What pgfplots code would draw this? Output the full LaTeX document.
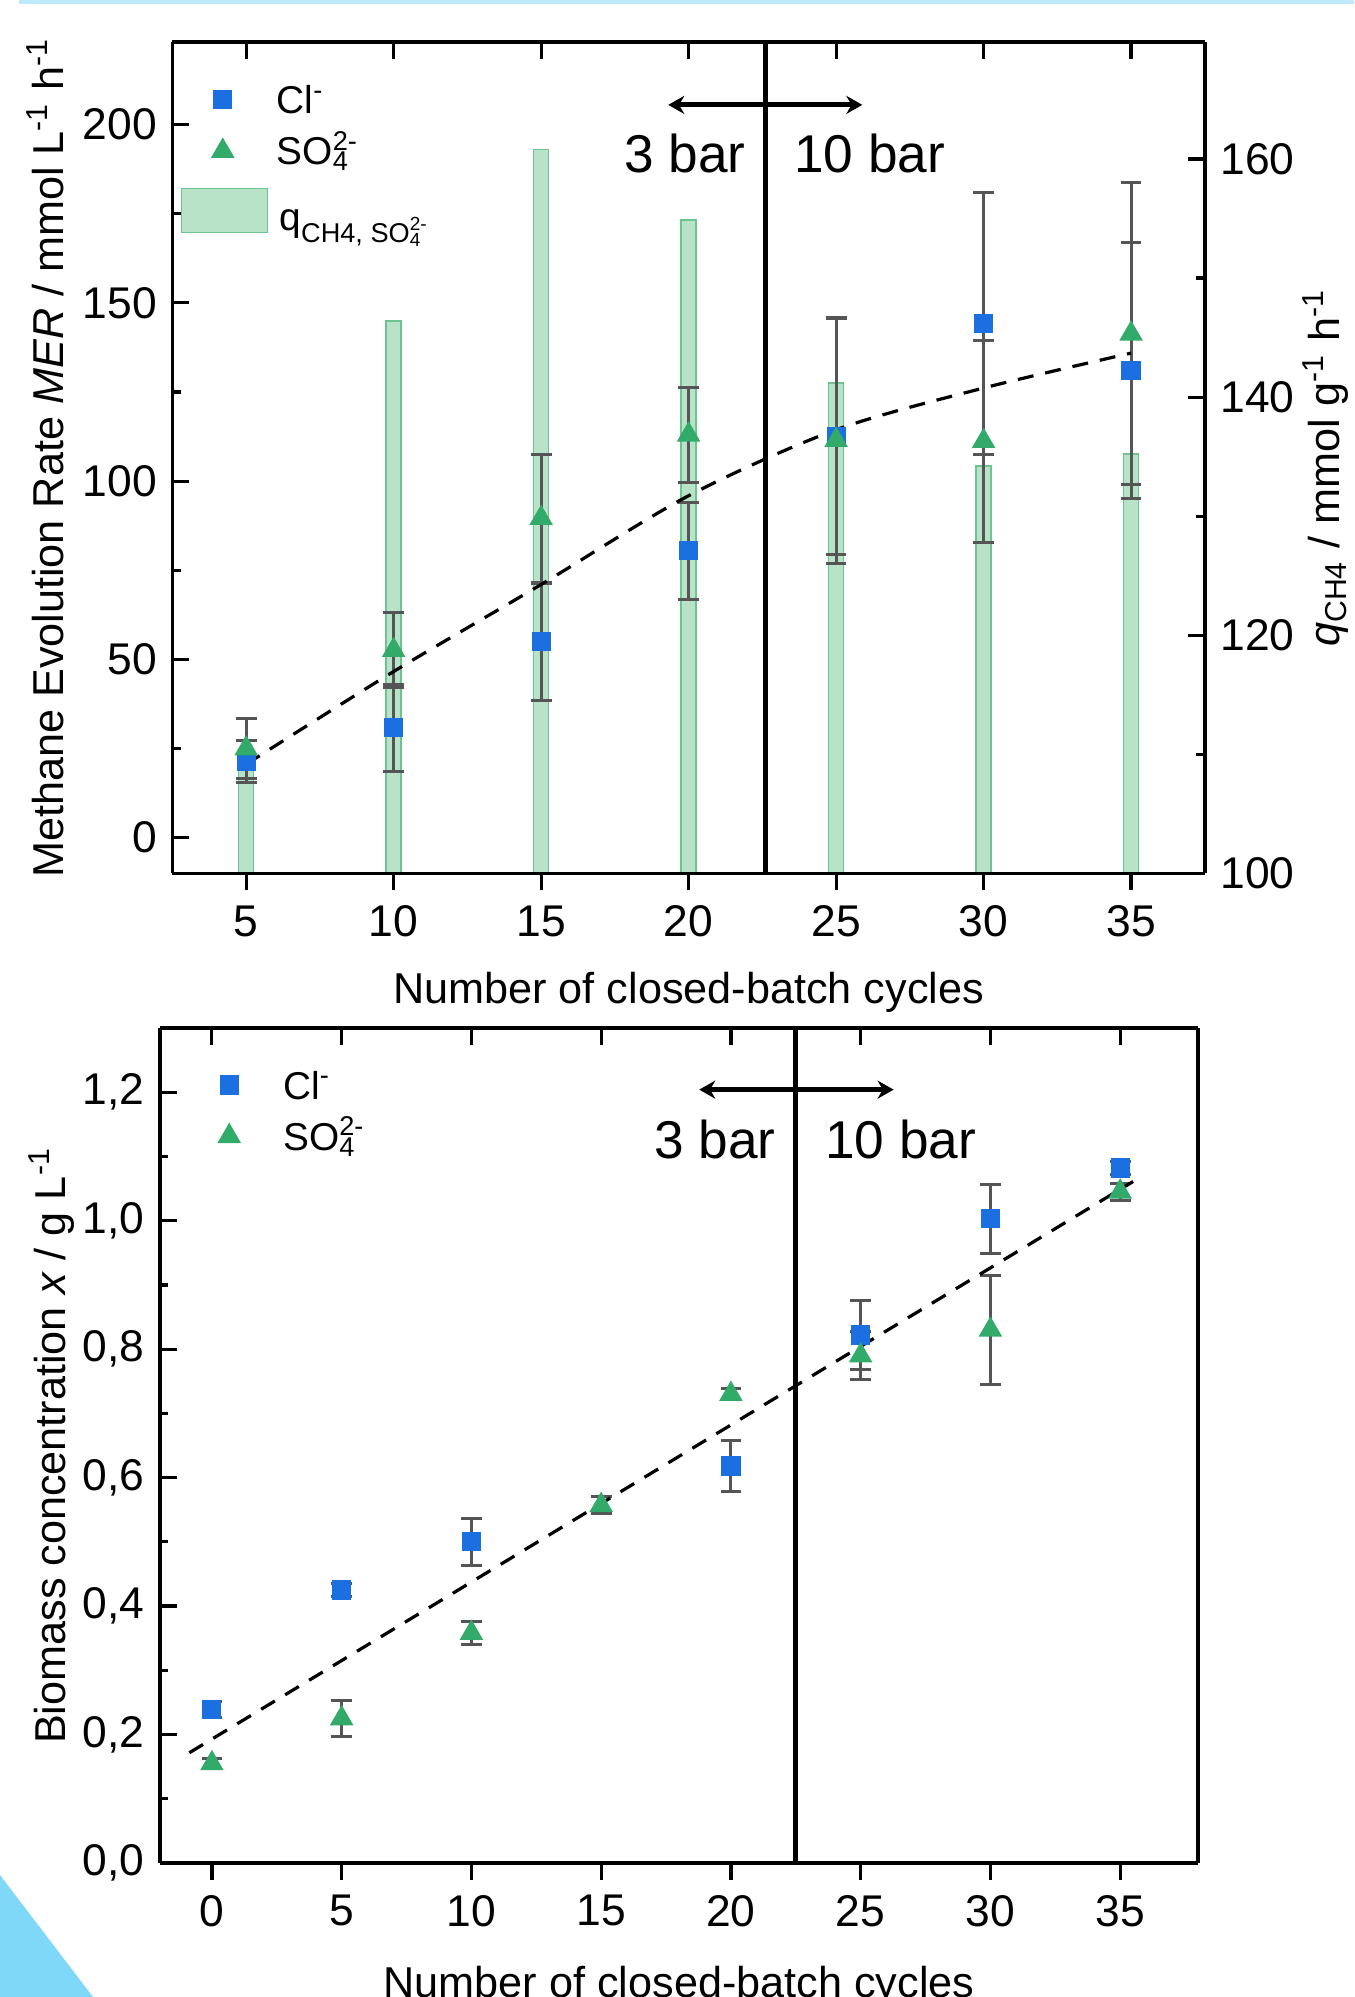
\documentclass[border=0pt]{standalone}
\usepackage{fontspec}
\setmainfont{Liberation Sans}
\usepackage{pgfplots}
\pgfplotsset{compat=1.18}
\usetikzlibrary{arrows.meta}
\definecolor{clblue}{RGB}{27,111,225}
\definecolor{sogreen}{RGB}{50,170,106}
\definecolor{barfill}{RGB}{184,227,201}
\definecolor{baredge}{RGB}{108,197,143}
\definecolor{errgray}{RGB}{85,85,85}
\definecolor{stripblue}{RGB}{190,233,251}
\definecolor{triblue}{RGB}{128,216,248}
\newcommand\labfont{\fontsize{10.8}{13}\selectfont}
\newcommand\barfont{\fontsize{13.3}{15}\selectfont}
\pgfplotsset{
  base/.style={scale only axis, clip=false,
    /pgf/number format/assume math mode=true,
    axis line style={line width=0.9pt},
    major tick length=4.2pt, minor tick length=2.1pt,
    major tick style={line width=0.8pt,black},
    minor tick style={line width=0.8pt,black},
  },
  errs/.style={draw=none, mark=none, forget plot,
    error bars/.cd, y dir=both, y explicit,
    error bar style={draw=errgray, line width=0.75pt},
    error mark options={rotate=90, draw=errgray, line width=0.75pt, mark size=2.6pt}},
  mlegend/.style={legend cell align=left,
    legend style={draw=none, fill=none, inner sep=0pt, outer sep=0pt,
      anchor=north west, column sep=9.5pt,
      nodes={inner sep=0pt, text height=6.3pt, text depth=6.3pt, font=\fontsize{9.7}{11.5}\selectfont}}},
  sqimg/.style={legend image code/.code={\path[draw=none, fill=none] (-4pt,-4pt) rectangle (4pt,4pt); \draw[##1] plot coordinates {(0pt,3.5pt)};}},
}
\begin{document}
\fontsize{11.1}{13}\selectfont
\begin{tikzpicture}
\useasboundingbox (0,0) rectangle (338.5pt,499.25pt);
\fill[stripblue] (4.75pt,498.2pt) rectangle (338.5pt,499.25pt);
\fill[triblue] (0,0) -- (0,30.5pt) -- (23.25pt,0) -- cycle;

% ---------- top: bars on right axis
\begin{axis}[base, clip=true, at={(43.1pt,280.9pt)}, anchor=south west,
  width=258.1pt, height=207.9pt,
  xmin=2.5, xmax=37.5, ymin=100, ymax=169.85,
  axis x line=none, axis y line*=right, tick align=inside,
  ytick={100,120,140,160}, minor ytick={110,130,150},
  ylabel={\labfont\textit{q}\textsubscript{CH4} / mmol g\textsuperscript{-1} h\textsuperscript{-1}},
  every axis y label/.style={at={(axis description cs:1.1308,0.4877)}, rotate=90, anchor=base},
  legend cell align=left,
  legend style={draw=none, fill=none, inner sep=0pt, outer sep=0pt,
    at={(axis description cs:0.0081,0.8244)}, anchor=north west, column sep=2.8pt,
    nodes={inner sep=0pt, text height=8pt, text depth=3pt, font=\fontsize{9.7}{11.5}\selectfont}}]
\addplot[ybar, bar width=3.75pt, fill=barfill, draw=baredge, line width=0.4pt,
  legend image code/.code={\draw[fill=barfill, draw=baredge, line width=0.4pt] (-10.75pt,-3pt) rectangle (10.75pt,8pt);}]
  coordinates {(5,109.5) (10,146.4) (15,160.8) (20,154.9) (25,141.2) (30,134.2) (35,135.2)};
\addlegendentry{q\textsubscript{CH4, SO\rlap{\textsuperscript{2-}}\textsubscript{4}}}
\end{axis}

% ---------- top: markers on left axis
\begin{axis}[base, mlegend, at={(43.1pt,280.9pt)}, anchor=south west,
  width=258.1pt, height=207.9pt,
  xmin=2.5, xmax=37.5, ymin=-10, ymax=223.2,
  axis x line*=top, axis y line*=left, tick align=inside,
  xtick={5,10,...,35}, xticklabels={},
  ytick={0,50,100,150,200}, minor ytick={25,75,125,175},
  ylabel={\labfont Methane Evolution Rate \textit{MER} / mmol L\textsuperscript{-1} h\textsuperscript{-1}},
  every axis y label/.style={at={(axis description cs:-0.1058,0.5)}, rotate=90, anchor=base},
  legend style={at={(axis description cs:0.0333,0.9437)}}]
\addplot[only marks, mark=square*, mark size=2.2pt, color=clblue, sqimg]
  coordinates {(5,21.4) (10,30.8) (15,55) (20,80.5) (25,112.5) (30,144.1) (35,131)};
\addlegendentry{Cl\textsuperscript{-}}
\addplot[only marks, mark=triangle*, mark size=3pt, color=sogreen, sqimg]
  coordinates {(5,25) (10,52.6) (15,89.6) (20,113) (25,111.5) (30,111.2) (35,141.3)};
\addlegendentry{SO\rlap{\textsuperscript{2-}}\textsubscript{4}}
\addplot[errs] coordinates {(5,21.4) +- (0,6) (10,30.8) +- (0,12.2) (15,55) +- (0,16.4)
  (20,80.5) +- (0,13.6) (25,112.5) +- (0,33) (30,144.1) +- (0,36.7) (35,131) +- (0,36)};
\addplot[errs] coordinates {(5,25) +- (0,8.5) (10,52.6) +- (0,10.5) (15,89.6) +- (0,18)
  (20,113) +- (0,13.3) (25,111.5) +- (0,34.5) (30,111.2) +- (0,28.3) (35,141.3) +- (0,42.3)};
\addplot[black, dash pattern=on 4pt off 3pt, line width=0.8pt, smooth, forget plot]
  coordinates {(5,20.6) (10,46.6) (15,71) (20,95.9) (25,114.4) (30,126.1) (35,135.9)};
\addplot[black, line width=1.2pt, forget plot] coordinates {(22.6,-10) (22.6,223.2)};
\draw[{Stealth[length=4pt,width=4.5pt]}-{Stealth[length=4pt,width=4.5pt]}, line width=1.2pt]
  (axis cs:19.31,205.5) -- (axis cs:25.89,205.5);
\node[anchor=base east, inner sep=0pt, font=\barfont] at (axis cs:21.96,186.4) {3 bar};
\node[anchor=base west, inner sep=0pt, font=\barfont] at (axis cs:23.55,186.4) {10 bar};
\end{axis}

% ---------- top: bottom x axis with outward ticks
\begin{axis}[base, at={(43.1pt,280.9pt)}, anchor=south west,
  width=258.1pt, height=207.9pt,
  xmin=2.5, xmax=37.5, ymin=0, ymax=1,
  axis x line*=bottom, axis y line=none, tick align=outside,
  xtick={5,10,...,35},
  xlabel={\labfont Number of closed-batch cycles},
  every axis x label/.style={at={(axis description cs:0.5,-0.1566)}, anchor=base}]
\end{axis}

% ---------- bottom: data axis
\begin{axis}[base, mlegend, at={(40pt,33.5pt)}, anchor=south west,
  width=259.5pt, height=208.75pt,
  xmin=-2, xmax=38, ymin=0, ymax=1.3,
  axis x line*=top, axis y line*=left, tick align=inside,
  xtick={0,5,...,35}, xticklabels={},
  ytick={0,0.2,0.4,0.6,0.8,1.0,1.2}, minor ytick={0.1,0.3,0.5,0.7,0.9,1.1},
  yticklabel style={/pgf/number format/.cd, fixed, fixed zerofill, precision=1, use comma},
  ylabel={\labfont Biomass concentration \textit{x} / g L\textsuperscript{-1}},
  every axis y label/.style={at={(axis description cs:-0.0915,0.5)}, rotate=90, anchor=base},
  legend style={at={(axis description cs:0.0513,0.9451)}}]
\addplot[only marks, mark=square*, mark size=2.2pt, color=clblue, sqimg]
  coordinates {(0,0.239) (5,0.425) (10,0.5) (20,0.618) (25,0.822) (30,1.003) (35,1.082)};
\addlegendentry{Cl\textsuperscript{-}}
\addplot[only marks, mark=triangle*, mark size=3pt, color=sogreen, sqimg]
  coordinates {(0,0.155) (5,0.225) (10,0.358) (15,0.557) (20,0.73) (25,0.79) (30,0.83) (35,1.045)};
\addlegendentry{SO\rlap{\textsuperscript{2-}}\textsubscript{4}}
\addplot[errs] coordinates {(0,0.239) +- (0,0.012) (5,0.425) +- (0,0.01) (10,0.5) +- (0,0.037)
  (20,0.618) +- (0,0.04) (25,0.822) +- (0,0.053) (30,1.003) +- (0,0.054) (35,1.082) +- (0,0.01)};
\addplot[errs] coordinates {(0,0.155) +- (0,0.008) (5,0.225) +- (0,0.028) (10,0.358) +- (0,0.018)
  (15,0.557) +- (0,0.013) (20,0.73) +- (0,0.008) (25,0.79) +- (0,0.038) (30,0.83) +- (0,0.085) (35,1.045) +- (0,0.013)};
\addplot[black, dash pattern=on 4pt off 3pt, line width=0.8pt, forget plot]
  coordinates {(-0.87,0.1716) (35.5,1.061)};
\addplot[black, line width=1.2pt, forget plot] coordinates {(22.5,0) (22.5,1.3)};
\draw[{Stealth[length=4pt,width=4.5pt]}-{Stealth[length=4pt,width=4.5pt]}, line width=1.2pt]
  (axis cs:18.78,1.204) -- (axis cs:26.27,1.204);
\node[anchor=base east, inner sep=0pt, font=\barfont] at (axis cs:21.75,1.097) {3 bar};
\node[anchor=base west, inner sep=0pt, font=\barfont] at (axis cs:23.6,1.097) {10 bar};
\end{axis}

% ---------- bottom: bottom x axis + right spine
\begin{axis}[base, at={(40pt,33.5pt)}, anchor=south west,
  width=259.5pt, height=208.75pt,
  xmin=-2, xmax=38, ymin=0, ymax=1.3,
  axis x line*=bottom, axis y line*=right, ytick=\empty, tick align=outside,
  xtick={0,5,...,35},
  xlabel={\labfont Number of closed-batch cycles},
  every axis x label/.style={at={(axis description cs:0.5,-0.161)}, anchor=base}]
\end{axis}
\end{tikzpicture}
\end{document}
